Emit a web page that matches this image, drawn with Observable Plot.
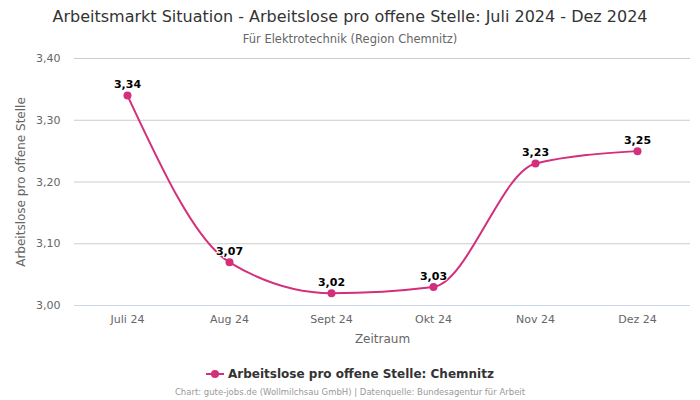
<!DOCTYPE html>
<html><head><meta charset="utf-8">
<script src="https://cdn.jsdelivr.net/npm/d3@7"></script>
<script src="https://cdn.jsdelivr.net/npm/@observablehq/plot@0.6"></script>
<style>
body{margin:0;font-family:"DejaVu Sans",sans-serif;background:#fff}
#wrap{position:relative;width:700px;height:400px;overflow:hidden}
.t{position:absolute;left:0;width:700px;text-align:center;white-space:nowrap}
#title{top:7px;font-size:16px;color:#333}
#sub{top:32px;font-size:11.5px;color:#666}
#legend{top:367px;font-size:12px;font-weight:bold;color:#333}
#cap{top:387px;font-size:8.5px;color:#999}
#chart{position:absolute;left:0;top:0}
</style></head>
<body>
<div id="wrap">
<div id="chart"></div>
<div class="t" id="title">Arbeitsmarkt Situation - Arbeitslose pro offene Stelle: Juli 2024 - Dez 2024</div>
<div class="t" id="sub">Für Elektrotechnik (Region Chemnitz)</div>
<div class="t" id="legend"><svg width="18" height="10" style="vertical-align:middle;margin-right:4px;margin-top:-2px"><line x1="0" y1="5" x2="18" y2="5" stroke="#d42f7b" stroke-width="2"/><circle cx="9" cy="5" r="4" fill="#d42f7b"/></svg>Arbeitslose pro offene Stelle: Chemnitz</div>
<div class="t" id="cap">Chart: gute-jobs.de (Wollmilchsau GmbH) | Datenquelle: Bundesagentur für Arbeit</div>
</div>
<script>
const months = ["Juli 24","Aug 24","Sept 24","Okt 24","Nov 24","Dez 24"];
const values = [3.34, 3.07, 3.02, 3.03, 3.23, 3.25];
const yTicks = [3.0, 3.1, 3.2, 3.3, 3.4];
const color = "#d42f7b";
const data = months.map((m,i)=>({m, v: values[i]}));
const fmt = d => d.toFixed(2).replace(".", ",");
const plot = Plot.plot({
  width: 700, height: 400,
  marginTop: 58, marginBottom: 95, marginLeft: 74, marginRight: 10,
  style: {fontFamily: "DejaVu Sans, sans-serif", fontSize: "11px", color: "#666", background: "transparent"},
  x: {type: "point", domain: months, padding: 0.5, label: null},
  y: {domain: [3.0, 3.4], label: null},
  marks: [
    Plot.gridY(yTicks, {stroke: "#cccccc", strokeOpacity: 1}),
    Plot.ruleY([3.0], {stroke: "#ccd6eb", strokeOpacity: 1}),
    Plot.axisY(yTicks, {tickSize: 0, tickPadding: 14, tickFormat: fmt, fontSize: 11, fill: "#666", label: null}),
    Plot.axisX({tickSize: 0, tickPadding: 10, fontSize: 11, fill: "#666", label: null}),
    Plot.text(["Zeitraum"], {frameAnchor: "bottom", dy: 37, fontSize: 12, fill: "#666"}),
    Plot.text(["Arbeitslose pro offene Stelle"], {frameAnchor: "left", textAnchor: "middle", dx: -53, rotate: -90, fontSize: 12, fill: "#666"}),
    Plot.line(data, {x: "m", y: "v", stroke: color, strokeWidth: 2, curve: "monotone-x"}),
    Plot.dot(data, {x: "m", y: "v", fill: color, r: 4}),
    Plot.text(data, {x: "m", y: "v", text: d => fmt(d.v), dy: -11, fontWeight: "bold", fontSize: 11, fill: "#000", stroke: "#fff", strokeWidth: 2, paintOrder: "stroke"})
  ]
});
document.getElementById("chart").appendChild(plot);
</script>
</body></html>
